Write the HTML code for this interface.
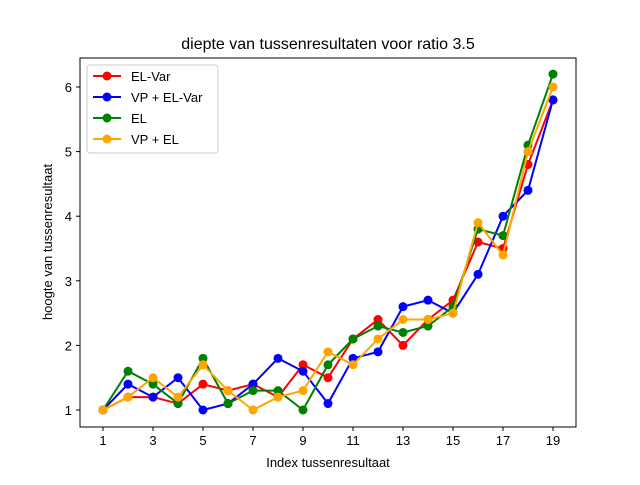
<!DOCTYPE html>
<html><head><meta charset="utf-8"><style>body{margin:0;background:#fff}svg text{font-family:"Liberation Sans","DejaVu Sans",sans-serif}</style></head>
<body>
<svg id="chart" width="640" height="480" viewBox="0 0 640 480" xmlns="http://www.w3.org/2000/svg">
<rect width="640" height="480" fill="#fff"/>
<text x="328" y="49" font-size="16" text-anchor="middle">diepte van tussenresultaten voor ratio 3.5</text>
<g id="plot"></g>
<rect x="80" y="58" width="496" height="369" fill="none" stroke="#000" stroke-width="1"/>
<text x="328" y="467" font-size="13" text-anchor="middle">Index tussenresultaat</text>
<text transform="translate(52,242) rotate(-90)" font-size="13" text-anchor="middle">hoogte van tussenresultaat</text>
<g>
<rect x="87" y="65" width="131" height="88" rx="3" fill="#fff" fill-opacity="0.8" stroke="#ccc"/>
<g id="legend-items"></g>
</g>
</svg>
<script>
const categories=[1,2,3,4,5,6,7,8,9,10,11,12,13,14,15,16,17,18,19];
const elVar=[1,1.2,1.2,1.1,1.4,1.3,1.4,1.2,1.7,1.5,2.1,2.4,2.0,2.4,2.7,3.6,3.5,4.8,5.8];
const vpElVar=[1,1.4,1.2,1.5,1.0,1.1,1.4,1.8,1.6,1.1,1.8,1.9,2.6,2.7,2.5,3.1,4.0,4.4,5.8];
const el=[1,1.6,1.4,1.1,1.8,1.1,1.3,1.3,1.0,1.7,2.1,2.3,2.2,2.3,2.6,3.8,3.7,5.1,6.2];
const vpEl=[1,1.2,1.5,1.2,1.7,1.3,1.0,1.2,1.3,1.9,1.7,2.1,2.4,2.4,2.5,3.9,3.4,5.0,6.0];
const seriesNames=["EL-Var","VP + EL-Var","EL","VP + EL"];
const xTicks=[1,3,5,7,9,11,13,15,17,19];
const yTicks=[1,2,3,4,5,6];
const NS="http://www.w3.org/2000/svg";
const X=v=>103+(v-1)*25;
const Y=v=>410-(v-1)*64.6;
const plot=document.getElementById('plot');
function mk(t,a,p){const e=document.createElementNS(NS,t);for(const k in a)e.setAttribute(k,a[k]);(p||plot).appendChild(e);return e;}
xTicks.forEach(t=>{
 const g=mk('g',{});
 
 
 mk('line',{x1:X(t),x2:X(t),y1:427,y2:431,stroke:'#000'},g);
 const tx=mk('text',{x:X(t),y:445,'font-size':13,'text-anchor':'middle'},g);tx.textContent=t;
});
yTicks.forEach(t=>{
 const g=mk('g',{});
 
 
 mk('line',{x1:76,x2:80,y1:Y(t),y2:Y(t),stroke:'#000'},g);
 const tx=mk('text',{x:72,y:Y(t)+5,'font-size':13,'text-anchor':'end'},g);tx.textContent=t;
});
const all=[elVar,vpElVar,el,vpEl];
const colors=['red','blue','green','orange'];
const keys=['el-var','vp-el-var','el','vp-el'];
all.forEach((s,i)=>{
 const g=mk('g',{});
 
 
 mk('polyline',{points:s.map((v,j)=>X(categories[j])+','+Y(v)).join(' '),fill:'none',stroke:colors[i],'stroke-width':2},g);
 s.forEach((v,j)=>{
  const c=mk('circle',{cx:X(categories[j]),cy:Y(v),r:4.5,fill:colors[i]},g);
  
  
 });
});
const lg=document.getElementById('legend-items');
seriesNames.forEach((n,i)=>{
 const y=76+i*21;
 const g=mk('g',{},lg);
 
 
 mk('line',{x1:93,x2:121,y1:y,y2:y,stroke:colors[i],'stroke-width':2},g);
 mk('circle',{cx:107,cy:y,r:4.5,fill:colors[i]},g);
 const t=mk('text',{x:131,y:y+5,'font-size':13},g);t.textContent=n;
});
</script>
</body></html>
